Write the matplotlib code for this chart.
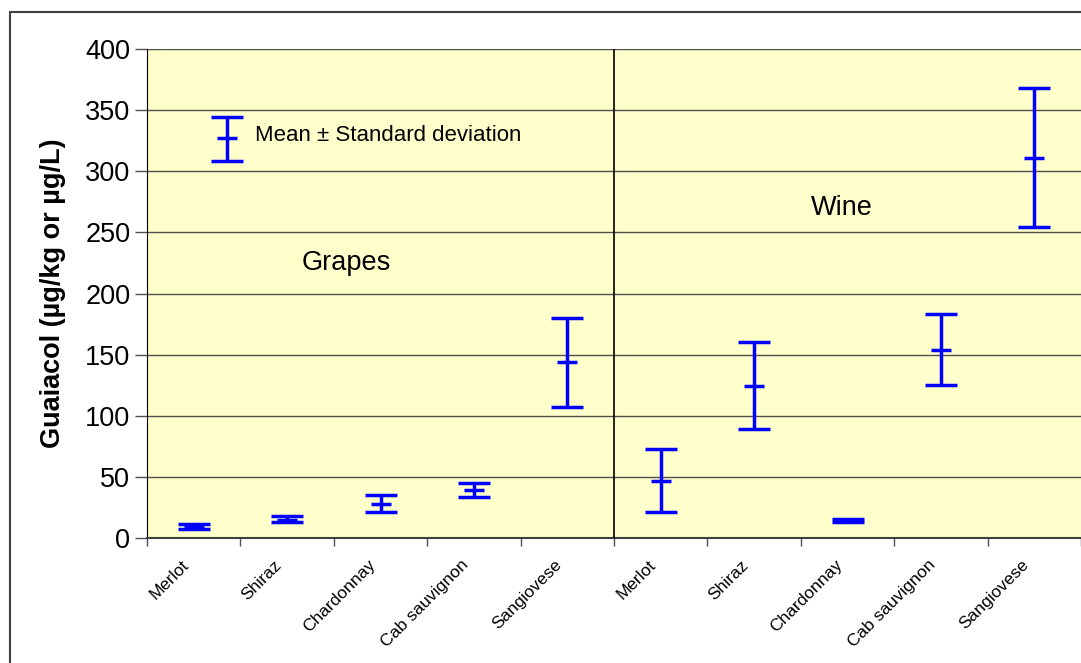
import matplotlib
matplotlib.use("Agg")
import matplotlib.pyplot as plt
import matplotlib.transforms as mtransforms
from matplotlib.patches import Rectangle
import numpy as np

# guaiacol, grapes (µg/kg) then wine (µg/L)
varieties = ["Merlot", "Shiraz", "Chardonnay", "Cab sauvignon", "Sangiovese"]
labels = varieties + varieties
means = [9.5, 15, 28, 39, 144, 47, 124, 14, 154, 311]
sd_lo = [7.4, 12.8, 21, 33.5, 107, 21, 89, 12.8, 125, 254]
sd_hi = [11.5, 18, 35, 45, 180, 73, 160, 15.5, 183, 368]
yticks = [0, 50, 100, 150, 200, 250, 300, 350, 400]

BLUE = "#0000FF"
YELLOW = "#FFFFCC"
FONT = "Liberation Sans"

fig = plt.figure(figsize=(10.81, 6.63), dpi=100)
fig.patches.append(Rectangle((10 / 1081, -0.1), 1.2, 1.1 - 12 / 663,
                             transform=fig.transFigure, fill=False,
                             edgecolor="#404040", linewidth=1.5))
ax = fig.add_axes([147 / 1081, 125 / 663, 934 / 1081, 489 / 663])
ax.set_facecolor(YELLOW)

x = np.arange(len(labels))
m = np.array(means)
err = np.vstack([m - np.array(sd_lo), np.array(sd_hi) - m])
ax.errorbar(x, m, yerr=err, fmt="none", ecolor=BLUE, elinewidth=2.5,
            capsize=11.5, capthick=2.5, zorder=4)
ax.plot(x, m, ls="none", marker="_", markersize=15, markeredgewidth=2.5,
        color=BLUE, zorder=5)

# legend sample
ax.errorbar([0.36], [327], yerr=[[19], [17]], fmt="none", ecolor=BLUE,
            elinewidth=2.5, capsize=11.5, capthick=2.5, zorder=4)
ax.plot([0.36], [327], ls="none", marker="_", markersize=15,
        markeredgewidth=2.5, color=BLUE, zorder=5)
ax.text(0.66, 329, "Mean ± Standard deviation", fontsize=16, va="center",
        ha="left", family=FONT)

ax.text(1.63, 225, "Grapes", fontsize=19.5, ha="center", va="center",
        family=FONT)
ax.text(6.94, 270, "Wine", fontsize=19.5, ha="center", va="center",
        family=FONT)

ax.axvline(4.5, color="black", lw=1.2, zorder=3)

ax.set_xlim(-0.5, 9.5)
ax.set_ylim(0, 400)
ax.set_yticks(yticks)
ax.yaxis.grid(True, color="#505050", lw=1.0)
ax.set_axisbelow(True)
ax.tick_params(axis="y", labelsize=19.5, length=9, width=1.0, color="#505050",
               pad=3)
for lab in ax.get_yticklabels():
    lab.set_family(FONT)

ax.set_xticks(x)
ax.set_xticklabels(labels, rotation=45, ha="right", rotation_mode="anchor",
                   fontsize=12.5, family=FONT)
ax.tick_params(axis="x", length=0, pad=14)
shift = mtransforms.ScaledTranslation(-0.13, 0, fig.dpi_scale_trans)
for lab in ax.get_xticklabels():
    lab.set_transform(lab.get_transform() + shift)
ax.set_xticks(np.arange(-0.5, 10, 1.0), minor=True)
ax.tick_params(axis="x", which="minor", length=6, width=1.0, color="#505050")

ax.set_ylabel("Guaiacol (µg/kg or µg/L)", fontsize=19.5, fontweight="bold",
              family=FONT, labelpad=14)

for side in ["top", "right"]:
    ax.spines[side].set_visible(False)
ax.spines["left"].set_color("black")
ax.spines["bottom"].set_color("#404040")
ax.spines["bottom"].set_linewidth(1.5)

fig.savefig("out.png", dpi=100)
